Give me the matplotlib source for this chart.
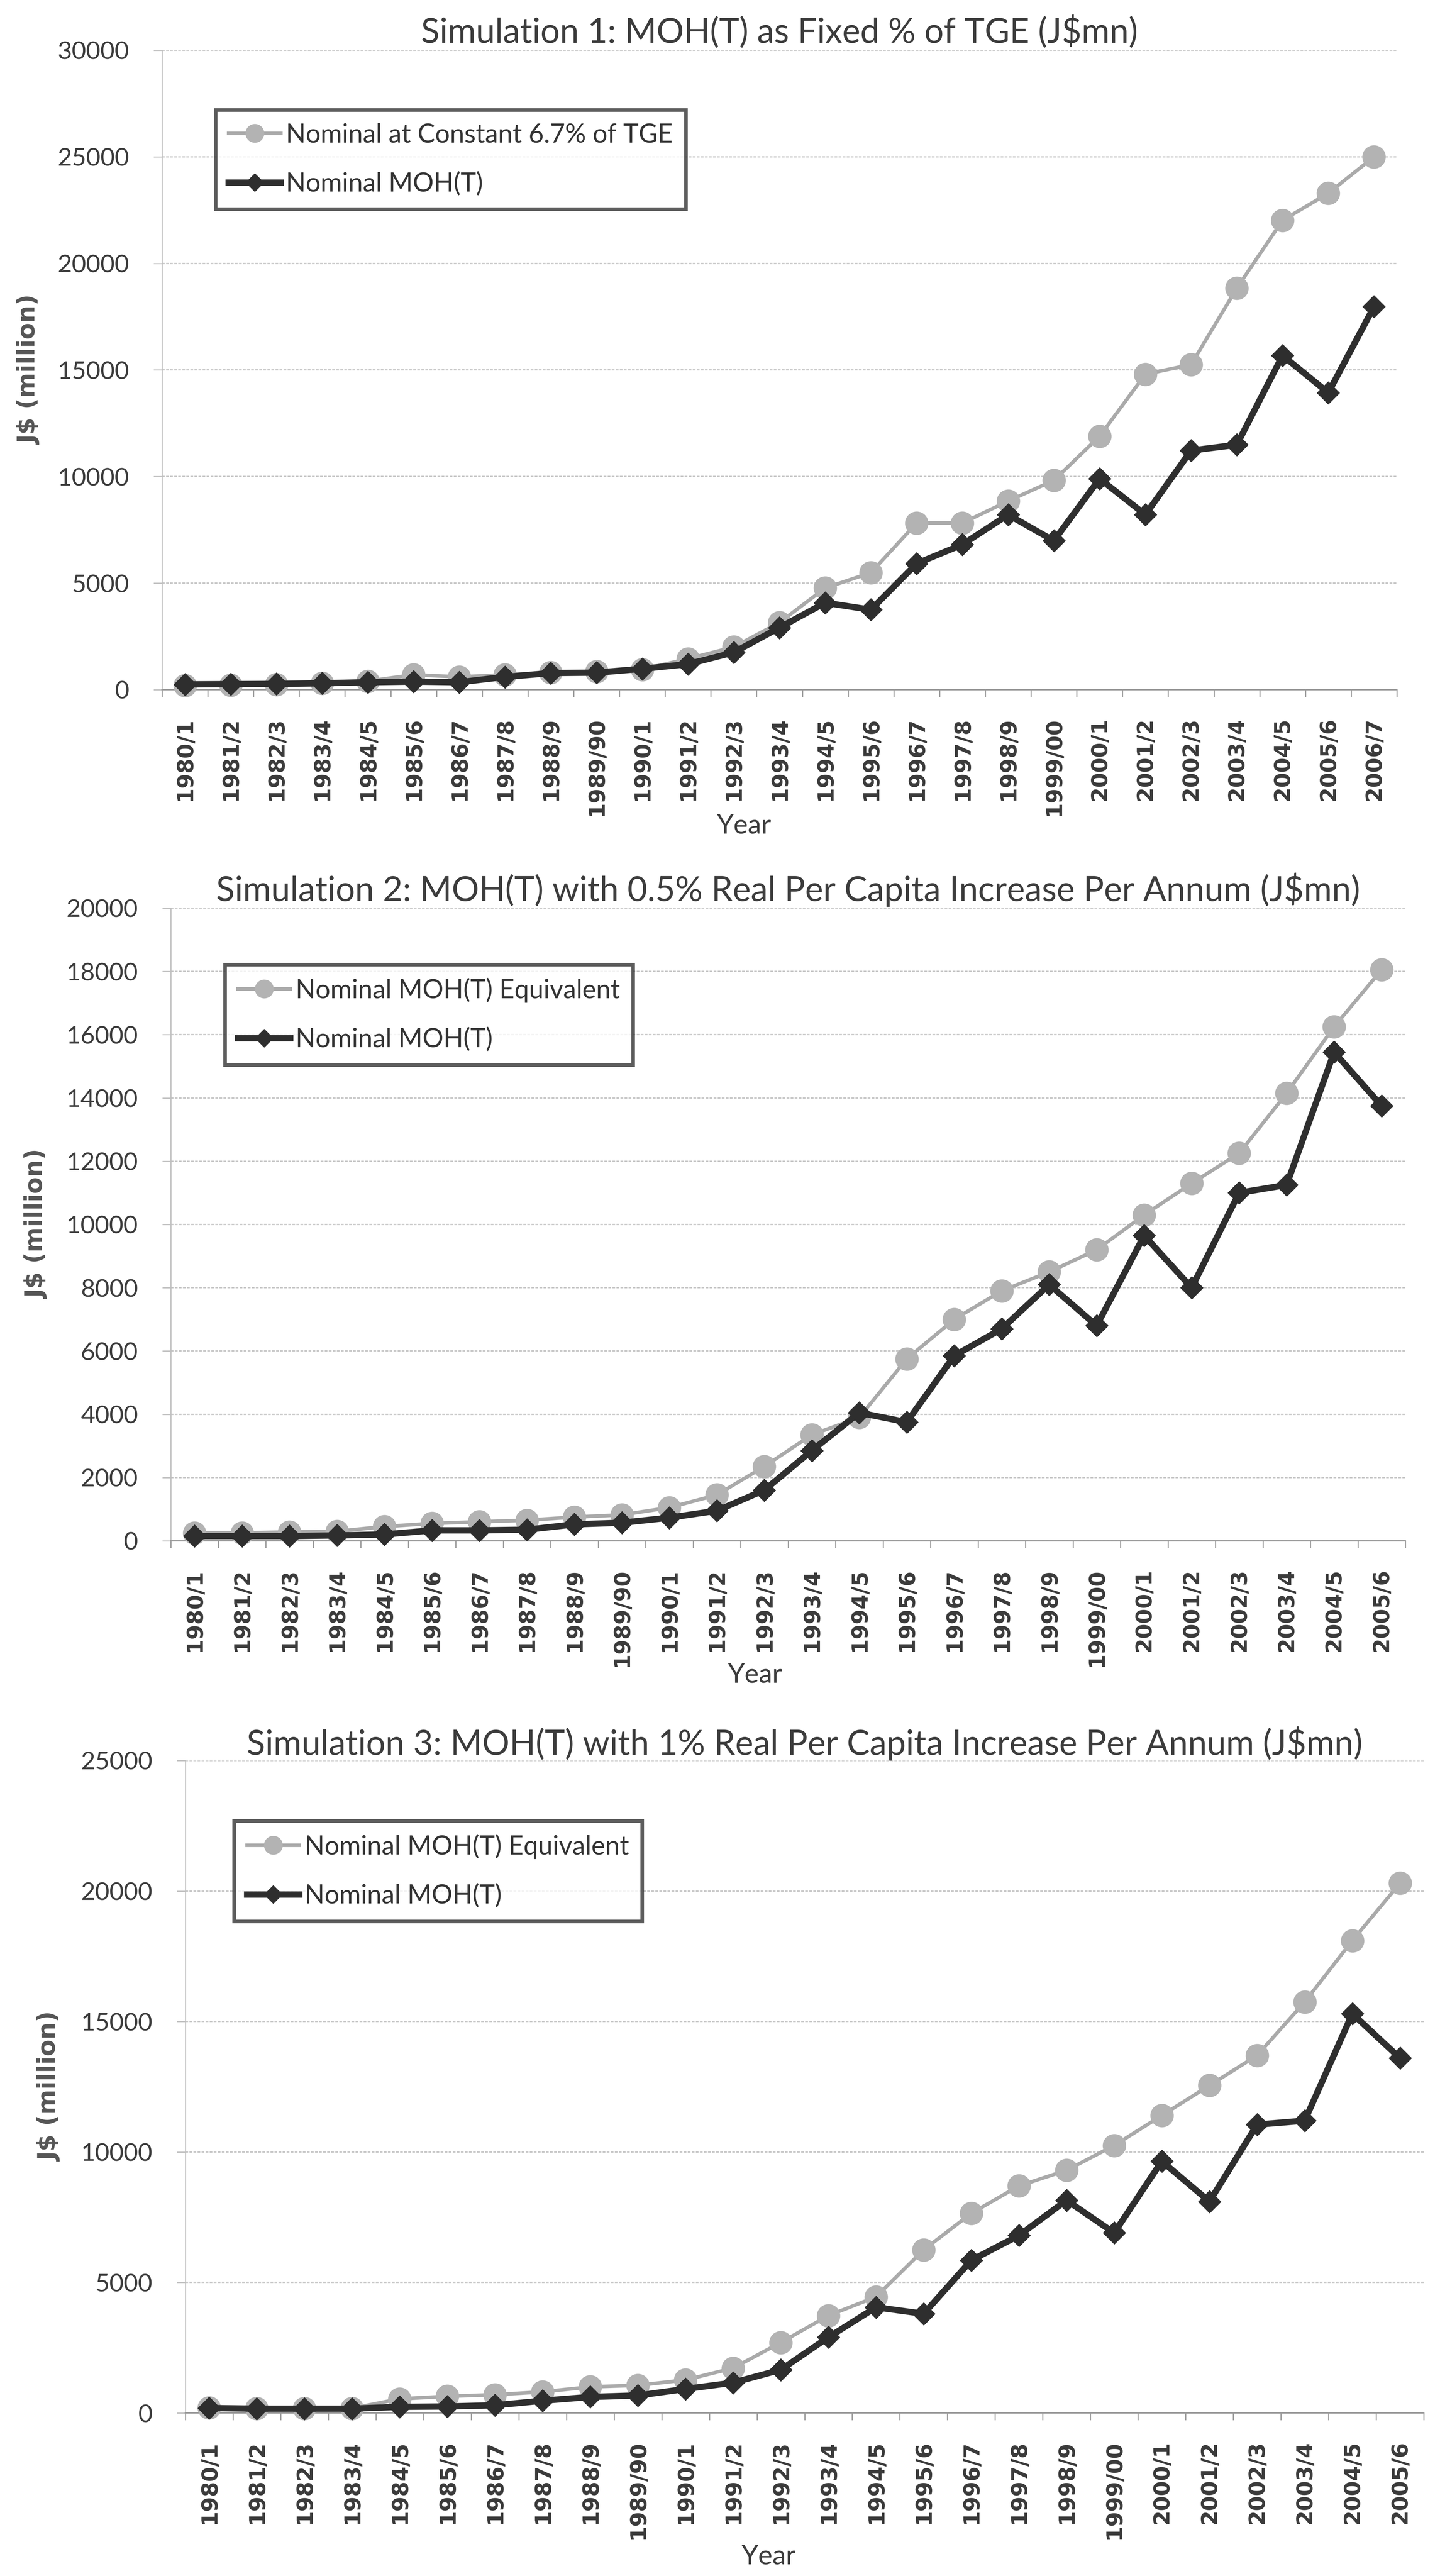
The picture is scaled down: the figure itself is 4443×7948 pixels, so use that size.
import matplotlib
matplotlib.use("Agg")
import matplotlib.pyplot as plt
from matplotlib.ticker import FixedLocator, MultipleLocator

# ---- data ----
years_26 = ["1980/1", "1981/2", "1982/3", "1983/4", "1984/5", "1985/6", "1986/7",
            "1987/8", "1988/9", "1989/90", "1990/1", "1991/2", "1992/3", "1993/4",
            "1994/5", "1995/6", "1996/7", "1997/8", "1998/9", "1999/00", "2000/1",
            "2001/2", "2002/3", "2003/4", "2004/5", "2005/6"]
years_27 = years_26 + ["2006/7"]

sim1_fixed_pct = [200, 220, 250, 300, 400, 700, 600, 700, 800, 850, 950, 1450, 2000,
                  3150, 4770, 5490, 7820, 7820, 8850, 9820, 11890, 14800, 15250,
                  18840, 22020, 23290, 25000]
sim1_nominal = [250, 260, 270, 300, 350, 380, 350, 600, 780, 800, 980, 1200, 1750,
                2910, 4080, 3750, 5920, 6810, 8210, 6990, 9900, 8210, 11220, 11490,
                15680, 13930, 17970]

sim2_equiv = [250, 250, 280, 300, 450, 550, 600, 650, 750, 820, 1050, 1450, 2350,
              3350, 3900, 5750, 7000, 7900, 8500, 9200, 10300, 11300, 12250, 14150,
              16250, 18050]
sim2_nominal = [150, 150, 150, 170, 200, 330, 330, 350, 520, 570, 730, 950, 1600,
                2850, 4050, 3750, 5850, 6700, 8100, 6800, 9650, 8000, 11000, 11250,
                15450, 13750]

sim3_equiv = [200, 180, 180, 180, 540, 640, 700, 810, 1000, 1060, 1265, 1720, 2700,
              3730, 4450, 6250, 7650, 8700, 9300, 10250, 11400, 12550, 13700, 15750,
              18100, 20300]
sim3_nominal = [190, 165, 165, 165, 235, 250, 295, 470, 615, 670, 920, 1160, 1655,
                2900, 4050, 3800, 5850, 6800, 8150, 6900, 9650, 8100, 11050, 11200,
                15300, 13600]

titles = ["Simulation 1: MOH(T) as Fixed % of TGE (J$mn)",
          "Simulation 2: MOH(T) with 0.5% Real Per Capita Increase Per Annum (J$mn)",
          "Simulation 3: MOH(T) with 1% Real Per Capita Increase Per Annum (J$mn)"]
gray_labels = ["Nominal at Constant 6.7% of TGE",
               "Nominal MOH(T) Equivalent",
               "Nominal MOH(T) Equivalent"]
black_label = "Nominal MOH(T)"

plt.rcParams["font.family"] = ["Lato", "DejaVu Sans"]

W, H = 4443, 7948
fig = plt.figure(figsize=(W / 100, H / 100), dpi=100)
fig.patch.set_facecolor("white")

TXT = "#3c3c3c"
GRAY = "#aaaaaa"
DARK = "#2e2e2e"

# pixel boxes: left, top, right, bottom / legend left, top / title pad /
# ylabel right edge / "Year" centre x and top y
panels = [
    dict(box=(500, 155, 4310, 2128), cats=years_27, g=sim1_fixed_pct, k=sim1_nominal,
         ymax=30000, step=5000, leg=(665, 339), tpad=16, ylx=127, year=(2296, 2510)),
    dict(box=(527, 2802, 4336, 4754), cats=years_26, g=sim2_equiv, k=sim2_nominal,
         ymax=20000, step=2000, leg=(694, 2976), tpad=16, ylx=150, year=(2330, 5130)),
    dict(box=(572, 5432, 4393, 7445), cats=years_26, g=sim3_equiv, k=sim3_nominal,
         ymax=25000, step=5000, leg=(722, 5618), tpad=3, ylx=190, year=(2372, 7850)),
]

for i, p in enumerate(panels):
    l, t, r, b = p["box"]
    ax = fig.add_axes([l / W, 1 - b / H, (r - l) / W, (b - t) / H])
    n = len(p["cats"])
    x = list(range(n))

    ax.plot(x, p["g"], color=GRAY, lw=8, marker="o", ms=51, mfc="#b3b3b3",
            mec="#b3b3b3", clip_on=False, zorder=3, label=gray_labels[i])
    ax.plot(x, p["k"], color=DARK, lw=14, marker="D", ms=36, mfc=DARK,
            mec=DARK, clip_on=False, zorder=4, label=black_label)

    ax.set_xlim(-0.5, n - 0.5)
    ax.set_ylim(0, p["ymax"])
    ax.yaxis.set_major_locator(MultipleLocator(p["step"]))
    ax.yaxis.grid(True, color="#c8c8c8", lw=3, ls=(0, (2, 1)))
    ax.set_axisbelow(True)

    for s in ["top", "right"]:
        ax.spines[s].set_visible(False)
    ax.spines["left"].set_color("#c0c0c0")
    ax.spines["left"].set_linewidth(2.5)
    ax.spines["bottom"].set_color("#9a9a9a")
    ax.spines["bottom"].set_linewidth(3)

    ax.set_xticks(x)
    ax.set_xticklabels(p["cats"], rotation=90, family="DejaVu Sans",
                       fontweight="bold", fontsize=48, color="#3a3a3a")
    ax.xaxis.set_minor_locator(FixedLocator([v + 0.5 for v in range(-1, n)]))
    ax.tick_params(axis="x", which="major", length=0, pad=62)
    ax.tick_params(axis="x", which="minor", length=16, width=2.5, color="#9a9a9a")
    ax.tick_params(axis="y", length=19, width=2.5, color="#c0c0c0", pad=54,
                   labelsize=55, labelcolor=TXT)

    yx, yt = p["year"]
    ax.set_xlabel("Year", fontsize=60, color=TXT)
    ax.xaxis.set_label_coords((yx - l) / (r - l), -(yt - b) / (b - t))
    ax.xaxis.label.set_verticalalignment("top")
    ax.set_ylabel("J$ (million)", family="DejaVu Sans", fontweight="bold",
                  fontsize=54, color="#555555")
    ax.yaxis.set_label_coords((p["ylx"] - l) / (r - l), 0.5)

    ax.set_title(titles[i], fontsize=76, color=TXT, pad=p["tpad"])

    lx, ly = p["leg"]
    leg = ax.legend(loc="upper left", bbox_to_anchor=(lx / W, 1 - ly / H),
                    bbox_transform=fig.transFigure, frameon=True, fancybox=False,
                    prop={"size": 58}, handlelength=2.0, handletextpad=0.2,
                    borderpad=0.5, labelspacing=0.95, markerscale=0.8,
                    borderaxespad=0)
    leg.get_frame().set_edgecolor("#333333")
    leg.get_frame().set_linewidth(8)
    for txt in leg.get_texts():
        txt.set_color("#333333")

fig.savefig("out.png", dpi=100, facecolor="white")
